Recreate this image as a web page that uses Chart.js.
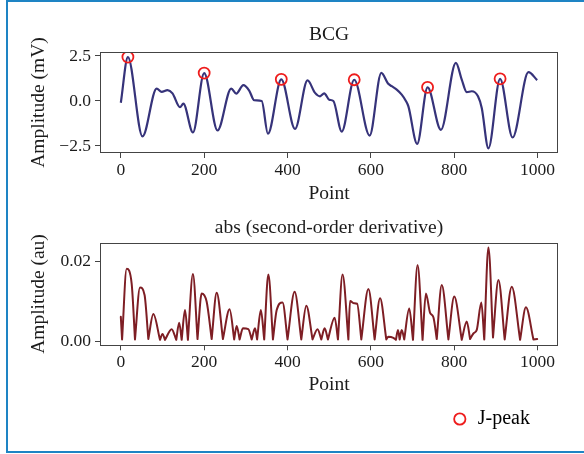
<!DOCTYPE html>
<html>
<head>
<meta charset="utf-8">
<title>BCG</title>
<script src="https://cdn.jsdelivr.net/npm/chart.js@4"></script>
<style>
  html, body { margin: 0; padding: 0; background: #fff; }
  #page { position: relative; width: 584px; height: 454px; overflow: hidden; background: #fff; }
  canvas { position: absolute; left: 0; }
  #top { top: 0; }
  #bottom { top: 200px; }
  #edge { position: absolute; left: 6px; top: 0; width: 578px; height: 453px; box-sizing: border-box;
          border-top: 2px solid #1e84c4; border-left: 2px solid #1e84c4; border-bottom: 2px solid #1e84c4;
          pointer-events: none; }
</style>
</head>
<body>
<div id="page">
  <canvas id="top" width="584" height="210"></canvas>
  <canvas id="bottom" width="584" height="254"></canvas>
  <div id="edge"></div>
</div>
<script>
// BCG signal, read at its turning points and shoulders
const bcgPoint = [0, 17, 52, 86, 98, 112, 124, 142, 150, 173,
                  200, 232, 265, 277, 294, 308, 320, 338, 353, 385,
                  418, 448, 466, 478, 488, 500, 510, 530, 560, 597,
                  625, 641, 650, 662, 674, 684, 690, 711, 736, 768,
                  804, 818, 830, 842, 857, 866, 882, 910, 940, 978, 999];
const bcgAmp = [-0.1, 2.44, -1.97, 0.69, 0.5, 0.6, 0.42, -0.35, -0.15, -1.75,
                1.55, -1.64, 0.69, 0.41, 0.88, 0.58, 0.04, 0.0, -1.82, 1.2,
                -1.55, 1.14, 0.45, 0.26, 0.42, 0.07, 0.0, -1.7, 1.18, -1.92,
                1.56, 0.97, 0.82, 0.63, 0.35, 0.0, -0.3, -2.38, 0.76, -1.6,
                2.12, 1.19, 0.49, 0.54, 0.26, -0.39, -2.63, 1.23, -2.03, 1.6, 1.16];

// detected J-peaks
const peakPoint = [17, 200, 385, 560, 736, 910];
const peakAmp = [2.44, 1.55, 1.2, 1.18, 0.76, 1.23];

// abs(second-order derivative)
const derPoint = [0, 3, 14, 26, 34, 46, 57, 66, 78, 94,
                  100, 106, 122, 133, 140, 146, 154, 161, 173, 184,
                  194, 206, 218, 230, 245, 261, 272, 278, 285, 293,
                  306, 314, 322, 327, 336, 344, 354, 365, 374, 388,
                  400, 417, 433, 445, 460, 472, 481, 489, 497, 513,
                  521, 532, 546, 550, 560, 567, 577, 594, 609, 622,
                  637, 642, 654, 660, 665, 669, 674, 680, 692, 701,
                  712, 724, 732, 742, 750, 758, 770, 786, 800, 818,
                  830, 838, 846, 854, 865, 872, 882, 893, 906, 921,
                  938, 958, 972, 990, 999];
const derAmp = [0.0061, 0.0004, 0.0182, 0.0145, 0.0004, 0.0135, 0.0116, 0.0005, 0.0068, 0.0003,
                0.0018, 0.0003, 0.003, 0.0003, 0.0046, 0.0003, 0.0078, 0.0003, 0.0169, 0.0005,
                0.012, 0.0099, 0.0005, 0.0122, 0.0005, 0.008, 0.0004, 0.0038, 0.0004, 0.0032,
                0.003, 0.0004, 0.0032, 0.0004, 0.0078, 0.0004, 0.0168, 0.0004, 0.0078, 0.0097,
                0.0004, 0.0124, 0.0004, 0.0089, 0.0004, 0.003, 0.0004, 0.0032, 0.0004, 0.0059,
                0.0004, 0.0168, 0.0004, 0.0101, 0.0095, 0.0094, 0.0004, 0.0131, 0.0004, 0.0108,
                0.0004, 0.0011, 0.0008, 0.0003, 0.0028, 0.0004, 0.0028, 0.0004, 0.0082, 0.0003,
                0.0192, 0.0003, 0.012, 0.0071, 0.006, 0.0005, 0.0141, 0.0004, 0.0112, 0.0003,
                0.0049, 0.0005, 0.0019, 0.0028, 0.0097, 0.0004, 0.0236, 0.0009, 0.0154, 0.0004,
                0.0137, 0.0003, 0.0085, 0.0004, 0.0005];

// tick labels
const pointTicks = [0, 200, 400, 600, 800, 1000];
const bcgTicks = [-2.5, 0, 2.5];
const derTicks = [0, 0.02];

const ink = '#1c1c1c';
const frameColor = '#444444';
const bcgColor = '#36337a';
const derColor = '#7e1e24';
const peakColor = '#ee1c1c';
const serif = 'Liberation Serif';
const tickFont = {family: serif, size: 17.5, weight: 'normal'};
const labelFont = {family: serif, size: 19.5, weight: 'normal'};

Chart.defaults.animation = false;
Chart.defaults.color = ink;

const pairs = (xs, ys) => xs.map((x, i) => ({x: x, y: ys[i]}));

// break the curve at every trough so each lobe gets its own monotone spline
function lobes(xs, ys) {
  const out = [];
  xs.forEach((x, i) => {
    out.push({x: x, y: ys[i]});
    if (i > 0 && i < ys.length - 1 && ys[i] < ys[i - 1] && ys[i] <= ys[i + 1]) {
      out.push({x: x, y: null});
      out.push({x: x, y: ys[i]});
    }
  });
  return out;
}

const minusSign = s => s.replace('-', '\u2212');

const framePlugin = {
  id: 'frame',
  afterDatasetsDraw(chart) {
    const a = chart.chartArea;
    const ctx = chart.ctx;
    ctx.save();
    ctx.strokeStyle = frameColor;
    ctx.lineWidth = 1;
    ctx.strokeRect(Math.round(a.left) + 0.5, Math.round(a.top) + 0.5,
                   Math.round(a.right - a.left) - 1, Math.round(a.bottom - a.top) - 1);
    ctx.restore();
  }
};

function xAxis(height, titlePad) {
  return {
    type: 'linear',
    min: -49.95,
    max: 1048.95,
    afterBuildTicks: s => { s.ticks = pointTicks.map(v => ({value: v})); },
    afterFit: s => { s.height = height; },
    ticks: {font: tickFont, color: ink, padding: 1.5, autoSkip: false, maxRotation: 0,
            callback: v => String(v)},
    grid: {drawOnChartArea: false, drawTicks: true, tickLength: 5, tickColor: frameColor, tickWidth: 1},
    border: {display: false},
    title: {display: true, text: 'Point', font: labelFont, color: ink, padding: {top: 0, bottom: titlePad}}
  };
}

function yAxis(min, max, ticks, digits, label) {
  return {
    type: 'linear',
    min: min,
    max: max,
    afterBuildTicks: s => { s.ticks = ticks.map(v => ({value: v})); },
    afterFit: s => { s.width = 100; },
    ticks: {font: tickFont, color: ink, padding: 4, autoSkip: false,
            callback: v => minusSign(v.toFixed(digits))},
    grid: {drawOnChartArea: false, drawTicks: true, tickLength: 5, tickColor: frameColor, tickWidth: 1},
    border: {display: false},
    title: {display: true, text: label, font: labelFont, color: ink, padding: {top: 26.8, bottom: 0}}
  };
}

// BCG with J-peaks
new Chart(document.getElementById('top'), {
  type: 'line',
  data: {
    datasets: [{
      label: 'J-peak',
      data: pairs(peakPoint, peakAmp),
      showLine: false,
      pointStyle: 'circle',
      pointRadius: 5.5,
      pointBorderWidth: 1.8,
      pointBorderColor: peakColor,
      pointBackgroundColor: 'rgba(0,0,0,0)',
      order: 0
    }, {
      label: 'BCG',
      data: pairs(bcgPoint, bcgAmp),
      borderColor: bcgColor,
      borderWidth: 2.2,
      pointRadius: 0,
      cubicInterpolationMode: 'monotone',
      order: 1
    }]
  },
  options: {
    responsive: false,
    layout: {padding: {left: 0, right: 26, top: 23.3, bottom: 0}},
    plugins: {
      legend: {display: false},
      tooltip: {enabled: false},
      title: {display: true, text: 'BCG', font: labelFont, color: ink, fullSize: false,
              padding: {top: 0, bottom: 5.3}}
    },
    scales: {
      x: xAxis(57, 4.5),
      y: yAxis(-2.89, 2.72, bcgTicks, 1, 'Amplitude (mV)')
    }
  },
  plugins: [framePlugin]
});

// abs(second-order derivative)
new Chart(document.getElementById('bottom'), {
  type: 'line',
  data: {
    datasets: [{
      label: 'abs (second-order derivative)',
      data: lobes(derPoint, derAmp),
      borderColor: derColor,
      borderWidth: 2,
      borderCapStyle: 'round',
      borderJoinStyle: 'round',
      pointRadius: 0,
      cubicInterpolationMode: 'monotone'
    }]
  },
  options: {
    responsive: false,
    layout: {padding: {left: 0, right: 26, top: 16.3, bottom: 15}},
    plugins: {
      tooltip: {enabled: false},
      title: {display: true, text: 'abs (second-order derivative)', font: labelFont, color: ink,
              fullSize: false, padding: {top: 0, bottom: 3.0}},
      legend: {
        display: true,
        position: 'bottom',
        align: 'end',
        labels: {
          font: {family: serif, size: 20},
          color: ink,
          padding: 28,
          usePointStyle: true,
          boxWidth: 16,
          boxHeight: 8,
          generateLabels: () => [{
            text: 'J-peak',
            pointStyle: 'circle',
            fillStyle: 'rgba(0,0,0,0)',
            strokeStyle: peakColor,
            lineWidth: 1.8,
            hidden: false,
            datasetIndex: 0
          }]
        }
      }
    },
    scales: {
      x: xAxis(35.7, -15.5),
      y: yAxis(-0.00108, 0.0248, derTicks, 2, 'Amplitude (au)')
    }
  },
  plugins: [framePlugin]
});
</script>
</body>
</html>
